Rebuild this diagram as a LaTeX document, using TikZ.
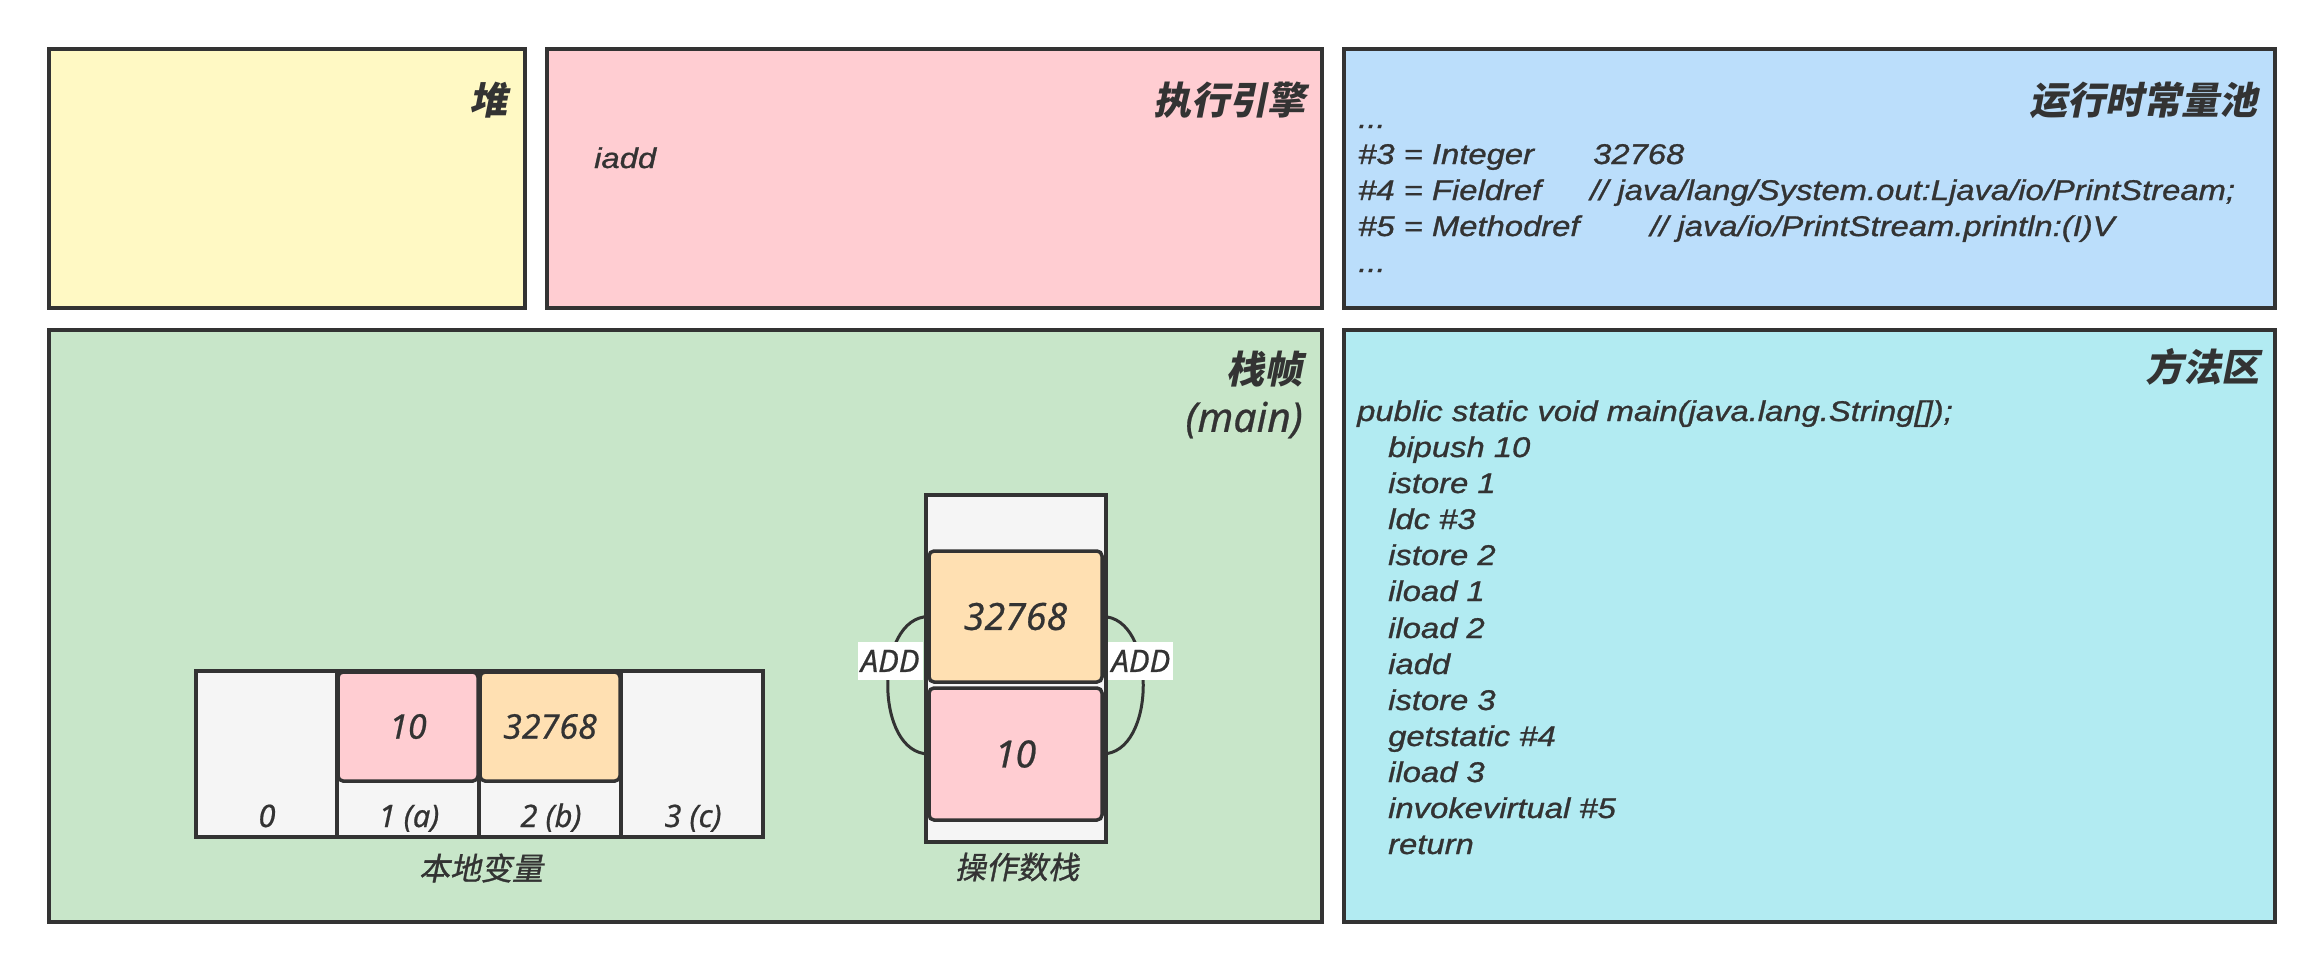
\documentclass[tikz,border=0pt]{standalone}
\usepackage{fontspec}
\newfontfamily\codefont[FakeStretch=1.15,FakeBold=1.0]{Liberation Sans}
\newfontfamily\lblfont[FakeBold=0.6]{Noto Sans}
\newfontfamily\cjk[FakeSlant=0.2]{Noto Sans CJK SC}
\newfontfamily\cjkm[FakeSlant=0.2,FakeBold=1.0]{Noto Sans CJK SC}
\definecolor{edge}{HTML}{333333}
\definecolor{ink}{HTML}{333333}
\definecolor{heapc}{HTML}{FFF9C4}
\definecolor{enginec}{HTML}{FFCDD2}
\definecolor{poolc}{HTML}{BBDEFB}
\definecolor{framec}{HTML}{C8E6C9}
\definecolor{methodc}{HTML}{B2EBF2}
\definecolor{orangec}{HTML}{FFE0B2}
\definecolor{pinkc}{HTML}{FFCDD2}
\definecolor{greyc}{HTML}{F5F5F5}
\begin{document}
\begin{tikzpicture}[x=1pt,y=-1pt,
  region/.style={draw=edge, line width=3.5pt, anchor=north west, inner sep=0pt, outer sep=0pt},
  title/.style={anchor=east, font=\cjk\bfseries\fontsize{38}{42}\selectfont, text=ink, inner sep=0pt},
  latintitle/.style={anchor=east, font=\lblfont\itshape\fontsize{41}{46}\selectfont, text=ink, inner sep=0pt},
  code/.style={anchor=base west, font=\codefont\itshape\fontsize{28.5}{34}\selectfont, text=ink, inner sep=0pt},
  lbl/.style={font=\lblfont\itshape\fontsize{31}{34}\selectfont, text=ink, inner sep=0pt},
  cjklbl/.style={font=\cjkm\fontsize{31}{34}\selectfont, text=ink, inner sep=0pt},
  cellbox/.style={draw=edge, line width=4pt, fill=greyc, anchor=north west, inner sep=0pt, outer sep=0pt},
  valbox/.style={draw=edge, line width=3.5pt, rounded corners=5pt, anchor=north west, inner sep=0pt, outer sep=0pt},
  conn/.style={draw=edge, line width=3pt},
  addlbl/.style={fill=white, font=\lblfont\itshape\fontsize{31}{34}\selectfont, text=ink, inner xsep=3pt, inner ysep=8pt, text height=22pt, text depth=0pt}
]
\useasboundingbox[fill=white] (0,0) rectangle (2324,972);

% regions
\node[region, fill=heapc, minimum width=476pt, minimum height=259pt] (heap) at (49,49) {};
\node[region, fill=enginec, minimum width=775pt, minimum height=259pt] (engine) at (547,49) {};
\node[region, fill=poolc, minimum width=931pt, minimum height=259pt] (pool) at (1344,49) {};
\node[region, fill=framec, minimum width=1273pt, minimum height=592pt] (frame) at (49,330) {};
\node[region, fill=methodc, minimum width=931pt, minimum height=592pt] (method) at (1344,330) {};

% titles
\node[title] (theap) at (508,100) {堆};
\node[title] (tengine) at (1306,100) {执行引擎};
\node[title] (tpool) at (2258,100) {运行时常量池};
\node[title] (tframe) at (1303,369) {栈帧};
\node[latintitle] (tmain) at (1303,420) {(main)};
\node[title] (tmethod) at (2260,367) {方法区};

% engine
\node[code] (eiadd) at (594,168) {iadd};

% constant pool
\node[code] (p0) at (1358,128) {...};
\node[code] (p3a) at (1358,164) {\#3 = Integer};
\node[code] (p3b) at (1593,164) {32768};
\node[code] (p4a) at (1358,200) {\#4 = Fieldref};
\node[code] (p4b) at (1590,200) {// java/lang/System.out:Ljava/io/PrintStream;};
\node[code] (p5a) at (1358,236) {\#5 = Methodref};
\node[code] (p5b) at (1650,236) {// java/io/PrintStream.println:(I)V};
\node[code] (p6) at (1358,272) {...};

% method area
\node[code] (m0) at (1357,421) {public static void main(java.lang.String[]);};
\node[code] (m1) at (1388,457) {bipush 10};
\node[code] (m2) at (1388,493) {istore 1};
\node[code] (m3) at (1388,529) {ldc \#3};
\node[code] (m4) at (1388,565) {istore 2};
\node[code] (m5) at (1388,601) {iload 1};
\node[code] (m6) at (1388,638) {iload 2};
\node[code] (m7) at (1388,674) {iadd};
\node[code] (m8) at (1388,710) {istore 3};
\node[code] (m9) at (1388,746) {getstatic \#4};
\node[code] (m10) at (1388,782) {iload 3};
\node[code] (m11) at (1388,818) {invokevirtual \#5};
\node[code] (m12) at (1388,854) {return};

% local variables
\node[cellbox, minimum width=141pt, minimum height=166pt] (c0) at (196,671) {};
\node[cellbox, minimum width=142pt, minimum height=166pt] (c1) at (337,671) {};
\node[cellbox, minimum width=142pt, minimum height=166pt] (c2) at (479,671) {};
\node[cellbox, minimum width=142pt, minimum height=166pt] (c3) at (621,671) {};
\node[valbox, fill=pinkc, minimum width=140pt, minimum height=109pt] (lv1) at (338,672) {};
\node[valbox, fill=orangec, minimum width=140pt, minimum height=109pt] (lv2) at (480,672) {};
\node[lbl, font=\lblfont\itshape\fontsize{34}{38}\selectfont] (lv1t) at (lv1.center) {10};
\node[lbl, font=\lblfont\itshape\fontsize{34}{38}\selectfont] (lv2t) at (lv2.center) {32768};
\node[lbl, anchor=base] (l0) at (267,827) {0};
\node[lbl, anchor=base] (l1) at (409,827) {1 (a)};
\node[lbl, anchor=base] (l2) at (551,827) {2 (b)};
\node[lbl, anchor=base] (l3) at (693,827) {3 (c)};
\node[cjklbl] (lvname) at (481,868) {本地变量};

% operand stack
\node[cellbox, line width=3.5pt, minimum width=180pt, minimum height=347pt] (os) at (926,495) {};
\node[valbox, fill=orangec, minimum width=173pt, minimum height=131pt] (ov) at (929,551) {};
\node[valbox, fill=pinkc, minimum width=173pt, minimum height=132pt] (pv) at (929,688) {};
\node[lbl, font=\lblfont\itshape\fontsize{37.5}{42}\selectfont] (ovt) at (ov.center) {32768};
\node[lbl, font=\lblfont\itshape\fontsize{37.5}{42}\selectfont] (pvt) at (pv.center) {10};
\node[cjklbl] (osname) at (1017,867) {操作数栈};

\draw[conn] (ov.west) .. controls +(-55,0) and +(-55,0) .. (pv.west) node[pos=0.38, addlbl] (addl) {ADD};
\draw[conn] (ov.east) .. controls +(55,0) and +(55,0) .. (pv.east) node[pos=0.38, addlbl] (addr) {ADD};
\end{tikzpicture}
\end{document}
